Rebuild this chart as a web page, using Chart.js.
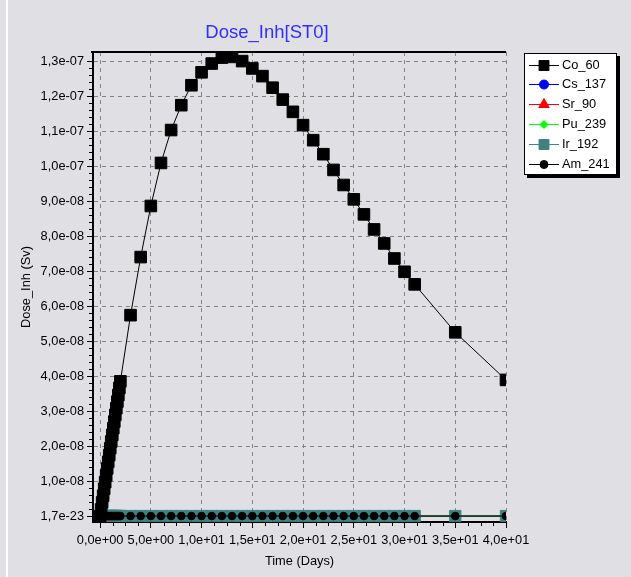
<!DOCTYPE html>
<html>
<head>
<meta charset="utf-8">
<script src="https://cdn.jsdelivr.net/npm/chart.js@4.4.1/dist/chart.umd.min.js"></script>
<style>
  html, body { margin: 0; padding: 0; background: #e0dfe3; }
  #wrap { position: relative; width: 631px; height: 577px; overflow: hidden; }
  #edge { position: absolute; left: 6px; top: 0; width: 2px; height: 577px; background: #fff; }
  canvas { position: absolute; left: 0; top: 0; }
</style>
</head>
<body>
<div id="wrap">
  <div id="edge"></div>
  <canvas id="doseChart" width="631" height="577"></canvas>
</div>
<script>
const chartTitle = 'Dose_Inh[ST0]';
const xTitle = 'Time (Days)';
const yTitle = 'Dose_Inh (Sv)';

const seriesNames = ['Co_60', 'Cs_137', 'Sr_90', 'Pu_239', 'Ir_192', 'Am_241'];

// sample times (days)
const days = [
  0, 0.1, 0.2, 0.3, 0.4, 0.5, 0.6, 0.7, 0.8, 0.9, 1.0,
  1.1, 1.2, 1.3, 1.4, 1.5, 1.6, 1.7, 1.8, 1.9, 2.0,
  3, 4, 5, 6, 7, 8, 9, 10, 11, 12, 13, 14, 15, 16, 17,
  18, 19, 20, 21, 22, 23, 24, 25, 26, 27, 28, 29, 30, 31,
  35, 40
];

// Co_60 inhalation dose (Sv)
const co60 = [
  0, 0.19e-8, 0.39e-8, 0.58e-8, 0.78e-8, 0.97e-8, 1.16e-8, 1.36e-8, 1.55e-8, 1.74e-8, 1.94e-8,
  2.13e-8, 2.32e-8, 2.51e-8, 2.70e-8, 2.89e-8, 3.08e-8, 3.27e-8, 3.46e-8, 3.66e-8, 3.85e-8,
  5.74e-8, 7.40e-8, 8.86e-8, 10.09e-8, 11.03e-8, 11.74e-8, 12.31e-8, 12.68e-8, 12.93e-8,
  13.10e-8, 13.12e-8, 13.00e-8, 12.79e-8, 12.57e-8, 12.24e-8, 11.90e-8, 11.55e-8, 11.17e-8,
  10.74e-8, 10.34e-8, 9.89e-8, 9.46e-8, 9.05e-8, 8.62e-8, 8.19e-8, 7.79e-8, 7.36e-8,
  6.98e-8, 6.62e-8,
  5.25e-8, 3.89e-8
];

// the other nuclides stay at the floor value for every sample
const traceDose = [
  1.7e-23, 1.7e-23, 1.7e-23, 1.7e-23, 1.7e-23, 1.7e-23, 1.7e-23, 1.7e-23, 1.7e-23, 1.7e-23, 1.7e-23,
  1.7e-23, 1.7e-23, 1.7e-23, 1.7e-23, 1.7e-23, 1.7e-23, 1.7e-23, 1.7e-23, 1.7e-23, 1.7e-23,
  1.7e-23, 1.7e-23, 1.7e-23, 1.7e-23, 1.7e-23, 1.7e-23, 1.7e-23, 1.7e-23, 1.7e-23,
  1.7e-23, 1.7e-23, 1.7e-23, 1.7e-23, 1.7e-23, 1.7e-23, 1.7e-23, 1.7e-23, 1.7e-23,
  1.7e-23, 1.7e-23, 1.7e-23, 1.7e-23, 1.7e-23, 1.7e-23, 1.7e-23, 1.7e-23, 1.7e-23,
  1.7e-23, 1.7e-23,
  1.7e-23, 1.7e-23
];

const xTicks = [0, 5, 10, 15, 20, 25, 30, 35, 40];
const xTickLabels = ['0,0e+00', '5,0e+00', '1,0e+01', '1,5e+01', '2,0e+01', '2,5e+01', '3,0e+01', '3,5e+01', '4,0e+01'];
const yTicks = [0, 1e-8, 2e-8, 3e-8, 4e-8, 5e-8, 6e-8, 7e-8, 8e-8, 9e-8, 1e-7, 1.1e-7, 1.2e-7, 1.3e-7];
const yTickLabels = ['1,7e-23', '1,0e-08', '2,0e-08', '3,0e-08', '4,0e-08', '5,0e-08', '6,0e-08',
  '7,0e-08', '8,0e-08', '9,0e-08', '1,0e-07', '1,1e-07', '1,2e-07', '1,3e-07'];

const FONT = '"Liberation Sans", Arial, sans-serif';
const FONT_SIZE = 12.8;

const colors = ['#000000', '#0000ff', '#ff0000', '#00ff00', '#408080', '#000000'];
const markers = ['rect', 'circle', 'triangle', 'rectRot', 'rect', 'circle'];
const markerRadius = [8.2, 4.5, 5, 5, 8, 3.8];
const legendRadius = [7, 4.5, 6, 4, 7, 4];
// drawing order: lower number ends up on top
const drawOrder = [0, 5, 4, 3, 2, 1];

const seriesValues = [co60, traceDose, traceDose, traceDose, traceDose, traceDose];

const datasets = seriesNames.map((name, i) => ({
  label: name,
  data: days.map((d, k) => ({ x: d, y: seriesValues[i][k] })),
  borderColor: colors[i],
  backgroundColor: colors[i],
  borderWidth: 1,
  pointStyle: markers[i],
  pointRadius: markerRadius[i],
  pointBorderWidth: 1,
  pointBorderColor: colors[i],
  pointBackgroundColor: colors[i],
  tension: 0,
  fill: false,
  order: drawOrder[i],
}));

// frame top, minor ticks, title and the boxed legend
const decorPlugin = {
  id: 'decor',
  afterDraw(chart) {
    const { ctx, chartArea: a, scales } = chart;
    const sx = scales.x, sy = scales.y;
    ctx.save();

    ctx.strokeStyle = '#000';
    ctx.lineWidth = 2;
    ctx.beginPath();
    ctx.moveTo(a.left - 2, a.top);
    ctx.lineTo(a.right, a.top);
    ctx.stroke();

    ctx.lineWidth = 1;
    ctx.beginPath();
    for (let i = 0; i <= 32; i++) {
      if (i % 4 === 0) continue;
      const px = Math.round(sx.getPixelForValue(i * 1.25)) + 0.5;
      ctx.moveTo(px, a.bottom);
      ctx.lineTo(px, a.bottom + 4);
    }
    for (let i = 0; i <= 65; i++) {
      if (i % 5 === 0) continue;
      const py = Math.round(sy.getPixelForValue(i * 2e-9)) + 0.5;
      ctx.moveTo(a.left - 4, py);
      ctx.lineTo(a.left, py);
    }
    ctx.stroke();

    ctx.fillStyle = '#2f2fff';
    ctx.font = '18.5px ' + FONT;
    ctx.textAlign = 'center';
    ctx.textBaseline = 'middle';
    ctx.fillText(chartTitle, 267, 33);

    // legend box with its drop shadow
    const lx = a.right + 18, ly = 53, lw = 93, lh = 122;
    ctx.fillStyle = '#000';
    ctx.fillRect(lx + 3, ly + 3, lw, lh);
    ctx.fillStyle = '#fff';
    ctx.fillRect(lx, ly, lw, lh);
    ctx.strokeStyle = '#000';
    ctx.lineWidth = 1;
    ctx.strokeRect(lx + 0.5, ly + 0.5, lw - 1, lh - 1);

    ctx.font = FONT_SIZE + 'px ' + FONT;
    ctx.textAlign = 'left';
    chart.data.datasets.forEach((ds, i) => {
      const cy = Math.round(ly + 11.5 + i * 19.9) + 0.5;
      ctx.strokeStyle = ds.borderColor;
      ctx.lineWidth = 1;
      ctx.beginPath();
      ctx.moveTo(lx + 5, cy);
      ctx.lineTo(lx + 35, cy);
      ctx.stroke();
      ctx.fillStyle = ds.backgroundColor;
      Chart.helpers.drawPoint(ctx, {
        pointStyle: ds.pointStyle, radius: legendRadius[i], rotation: 0, borderWidth: 1
      }, lx + 20, cy);
      ctx.fillStyle = '#000';
      ctx.fillText(ds.label, lx + 38, cy);
    });

    ctx.restore();
  }
};

Chart.defaults.font.family = FONT;
Chart.defaults.font.size = FONT_SIZE;
Chart.defaults.color = '#000';

new Chart(document.getElementById('doseChart'), {
  type: 'line',
  data: { datasets },
  options: {
    responsive: false,
    animation: false,
    events: [],
    layout: { padding: { top: 52, right: 125, bottom: 0, left: 0 } },
    plugins: {
      legend: { display: false },
      title: { display: false },
      tooltip: { enabled: false },
    },
    scales: {
      x: {
        type: 'linear',
        min: -0.7,
        max: 40,
        afterBuildTicks(scale) { scale.ticks = xTicks.map(v => ({ value: v })); },
        afterFit(scale) { scale.height = 55; },
        ticks: {
          autoSkip: false,
          maxRotation: 0,
          padding: 5,
          callback: (v, i) => xTickLabels[i],
        },
        grid: { color: '#858585', lineWidth: 1, tickLength: 6, tickColor: '#000' },
        border: { color: '#000', width: 2, dash: [4, 4] },
        title: { display: true, text: xTitle, padding: { top: 0, bottom: 8 } },
      },
      y: {
        type: 'linear',
        min: -1.7e-9,
        max: 1.326e-7,
        afterBuildTicks(scale) { scale.ticks = yTicks.map(v => ({ value: v })); },
        afterFit(scale) { scale.width = 93; },
        ticks: {
          autoSkip: false,
          padding: 3,
          callback: (v, i) => yTickLabels[i],
        },
        grid: { color: '#858585', lineWidth: 1, tickLength: 6, tickColor: '#000' },
        border: { color: '#000', width: 2, dash: [4, 4] },
        title: { display: true, text: yTitle, padding: { top: 19, bottom: 0 } },
      },
    },
  },
  plugins: [decorPlugin],
});
</script>
</body>
</html>
